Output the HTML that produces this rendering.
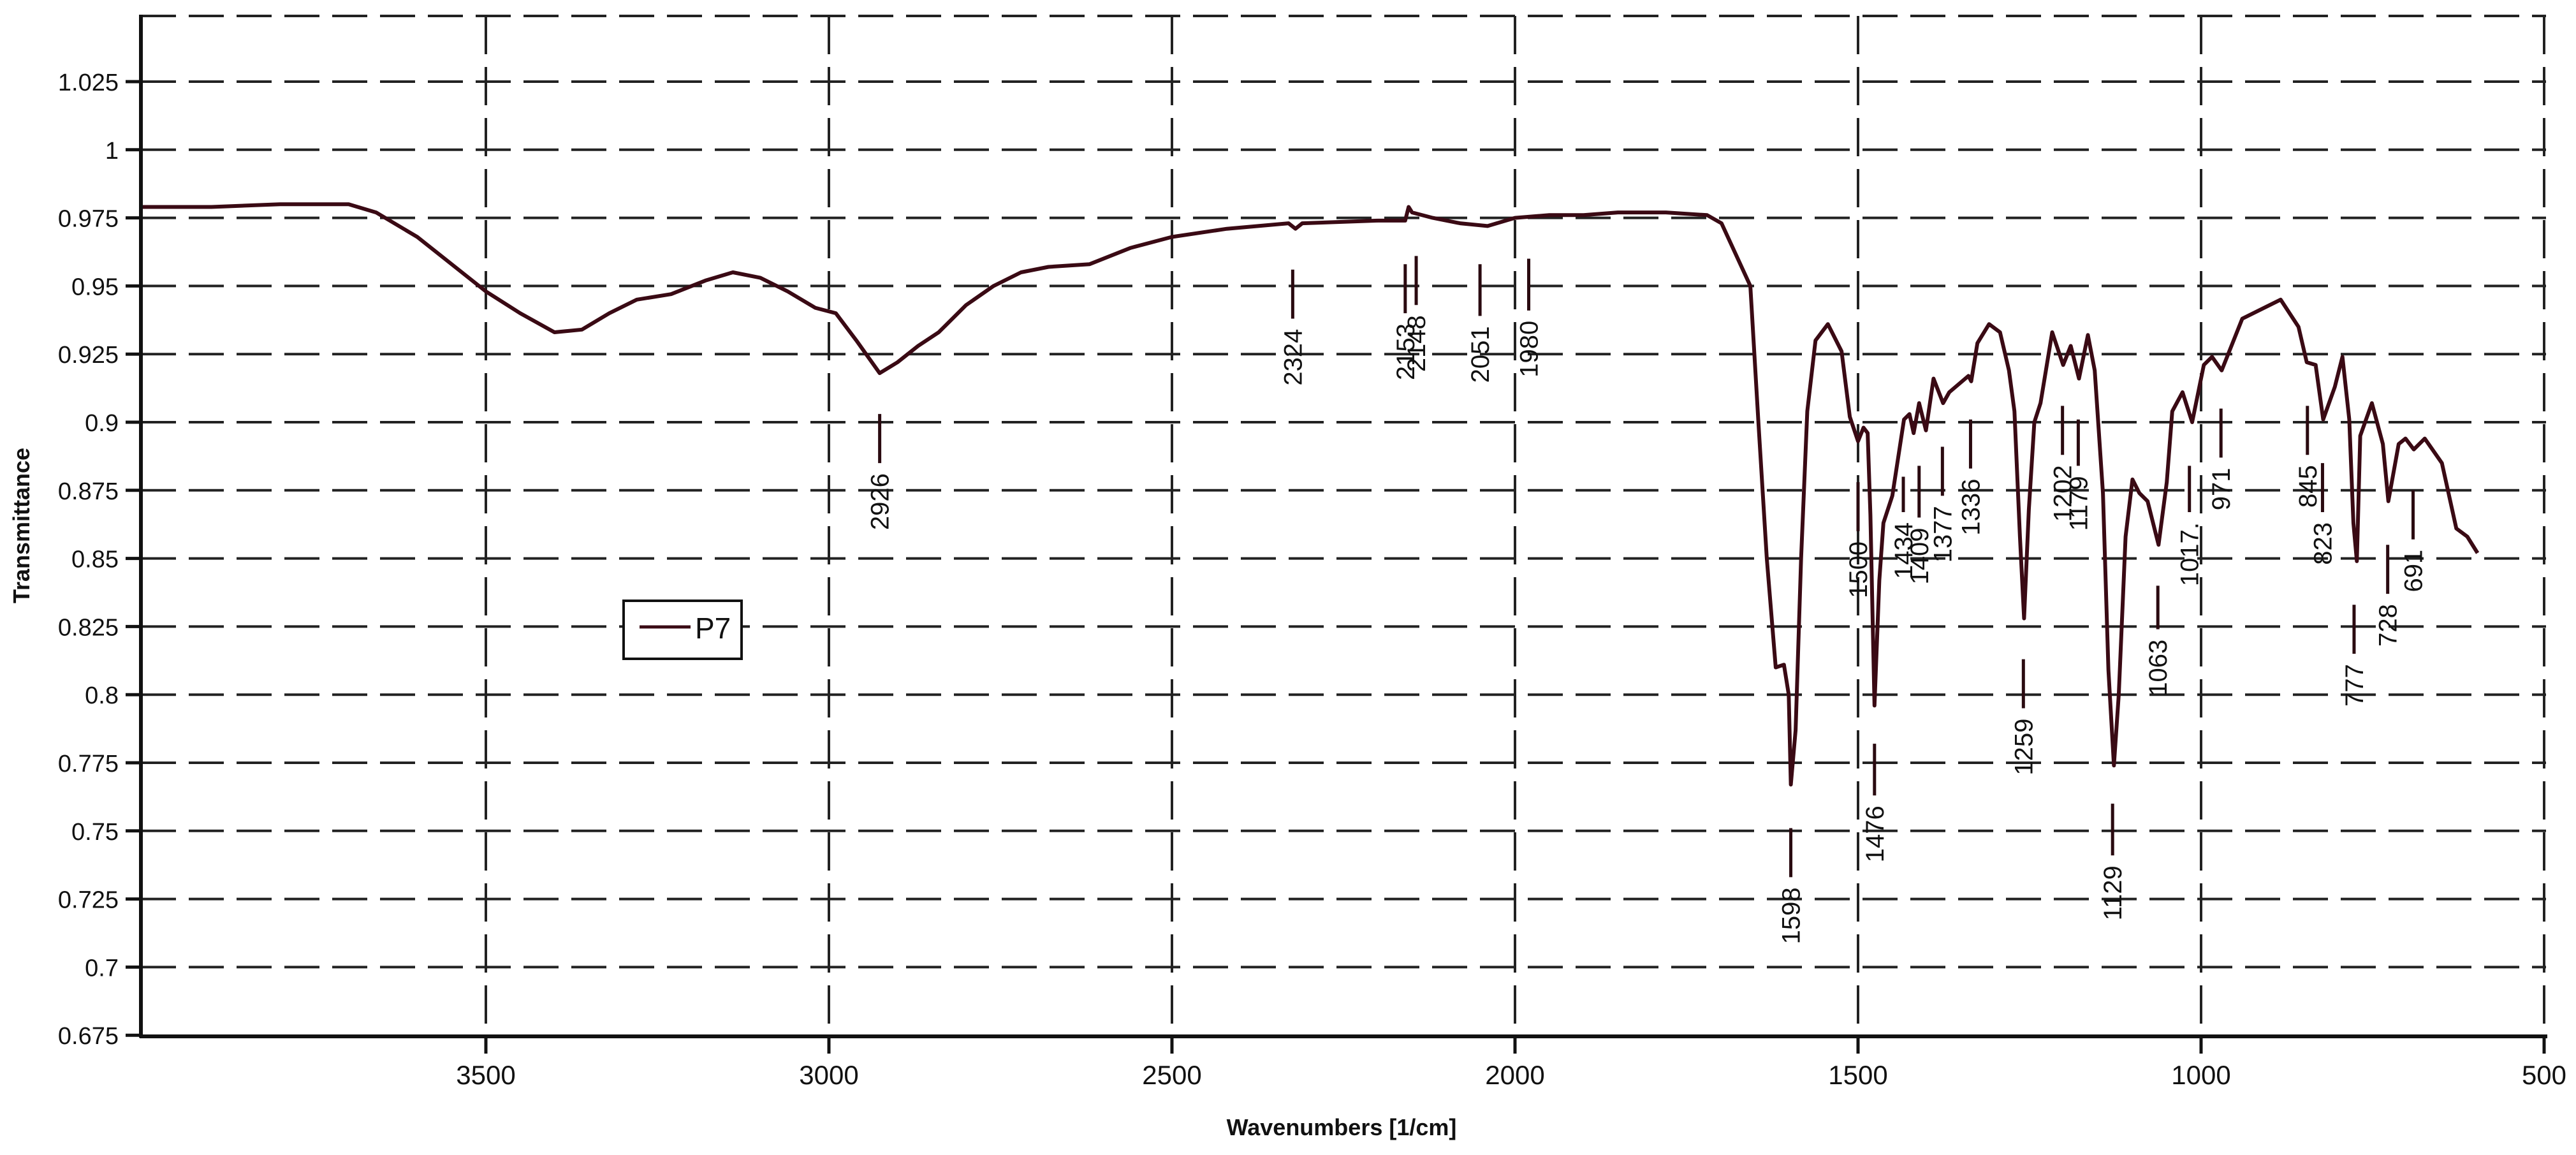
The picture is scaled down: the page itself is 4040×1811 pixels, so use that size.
<!DOCTYPE html>
<html><head><meta charset="utf-8"><style>
html,body{margin:0;padding:0;background:#fff;}
svg{display:block;font-family:"Liberation Sans",sans-serif;}
</style></head><body>
<svg id="chart" width="4040" height="1811" viewBox="0 0 4040 1811" xmlns="http://www.w3.org/2000/svg">
<g id="grid"></g>
<g id="axes"></g>
<g id="series"></g>
<g id="peaks"></g>
<text x="0" y="0" transform="translate(46,824) rotate(-90)" text-anchor="middle" font-size="36" font-weight="bold" fill="#111">Transmittance</text>
<text x="2104" y="1780" text-anchor="middle" font-size="36" font-weight="bold" fill="#111">Wavenumbers [1/cm]</text>
<g>
<rect x="978" y="942" width="185" height="91" fill="#fff" stroke="#111" stroke-width="4"/>
<line x1="1003" y1="983" x2="1083" y2="983" stroke="#3a0a14" stroke-width="5"/>
<text x="1090" y="1001" font-size="46" fill="#111">P7</text>
</g>
</svg>
<script>
const yTicks = [1.025, 1, 0.975, 0.95, 0.925, 0.9, 0.875, 0.85, 0.825, 0.8, 0.775, 0.75, 0.725, 0.7, 0.675];
const yTickLabels = ["1.025","1","0.975","0.95","0.925","0.9","0.875","0.85","0.825","0.8","0.775","0.75","0.725","0.7","0.675"];
const xTicks = [3500, 3000, 2500, 2000, 1500, 1000, 500];
const xTickLabels = ["3500","3000","2500","2000","1500","1000","500"];
const waveNumbers = [4000,3900,3800,3700,3660,3600,3550,3500,3450,3400,3360,3320,3280,3230,3180,3140,3100,3060,3020,2990,2960,2926,2900,2870,2840,2800,2760,2720,2680,2620,2560,2500,2420,2330,2320,2310,2200,2160,2155,2150,2120,2080,2040,2000,1950,1900,1850,1780,1720,1699,1657,1645,1633,1620,1608,1601,1598,1591,1583,1574,1562,1544,1524,1512,1500,1492,1486,1482,1476,1469,1463,1450,1433,1425,1419,1411,1401,1390,1376,1367,1339,1335,1326,1309,1293,1280,1272,1264,1258,1251,1243,1234,1217,1201,1190,1178,1165,1155,1143,1135,1127,1120,1110,1100,1090,1078,1062,1050,1042,1027,1013,996,984,970,940,884,858,846,833,822,805,794,784,778,773,768,751,735,727,712,702,690,674,649,628,612,597];
const transmittance = [0.979,0.979,0.980,0.980,0.977,0.968,0.958,0.948,0.940,0.933,0.934,0.940,0.945,0.947,0.952,0.955,0.953,0.948,0.942,0.940,0.930,0.918,0.922,0.928,0.933,0.943,0.950,0.955,0.957,0.958,0.964,0.968,0.971,0.973,0.971,0.973,0.974,0.974,0.979,0.977,0.975,0.973,0.972,0.975,0.976,0.976,0.977,0.977,0.976,0.973,0.950,0.899,0.850,0.810,0.811,0.800,0.767,0.787,0.850,0.904,0.930,0.936,0.926,0.902,0.893,0.898,0.896,0.866,0.796,0.842,0.863,0.873,0.901,0.903,0.896,0.907,0.897,0.916,0.907,0.911,0.917,0.915,0.929,0.936,0.933,0.919,0.904,0.858,0.828,0.868,0.900,0.907,0.933,0.921,0.928,0.916,0.932,0.919,0.874,0.809,0.774,0.800,0.858,0.879,0.874,0.871,0.855,0.878,0.904,0.911,0.900,0.921,0.924,0.919,0.938,0.945,0.935,0.922,0.921,0.901,0.913,0.924,0.901,0.863,0.849,0.895,0.907,0.892,0.871,0.892,0.894,0.890,0.894,0.885,0.861,0.858,0.852];
const peakLabels = ["2926","2324","2153","2148","2051","1980","1598","1500","1476","1434","1409","1377","1336","1259","1202","1179","1129","1063","1017.","971","845","823","777","728","691"];
const peakPositions = [2926,2324,2160,2144,2051,1980,1598,1500,1476,1434,1411,1377,1336,1259,1202,1179,1129,1063,1017,971,845,823,777,728,691];
const peakTops = [0.903,0.956,0.958,0.961,0.958,0.960,0.751,0.878,0.782,0.880,0.884,0.891,0.901,0.813,0.906,0.901,0.760,0.840,0.884,0.905,0.906,0.885,0.833,0.855,0.875];
const peakBottoms = [0.885,0.938,0.940,0.943,0.939,0.941,0.733,0.860,0.763,0.867,0.865,0.873,0.883,0.795,0.888,0.884,0.741,0.824,0.867,0.887,0.888,0.867,0.815,0.837,0.857];

const NS = "http://www.w3.org/2000/svg";
const X0 = 221, X1 = 3993, YTOP = 25, YBOT = 1625;
function xScale(w){ return 762 + (3500 - w) * 1.076; }
function yScale(v){ return 128 + (1.025 - v) * 4272; }
function mk(tag, attrs, parent){ const e = document.createElementNS(NS, tag); for (const k in attrs) e.setAttribute(k, attrs[k]); parent.appendChild(e); return e; }

const grid = document.getElementById('grid');
const axes = document.getElementById('axes');
const series = document.getElementById('series');
const peaks = document.getElementById('peaks');

const topLine = mk('line', {x1:X0, y1:YTOP, x2:X1, y2:YTOP, stroke:'#222', 'stroke-width':4, 'stroke-dasharray':'55 20'}, grid);



yTicks.forEach((v, i) => {
  const y = yScale(v);
  if (i < yTicks.length - 1) {
    const g = mk('line', {x1:X0, y1:y, x2:X1, y2:y, stroke:'#222', 'stroke-width':4, 'stroke-dasharray':'55 20'}, grid);
    
    
  }
  const t = mk('line', {x1:197, y1:y, x2:X0, y2:y, stroke:'#111', 'stroke-width':5}, axes);
  
  
  const lb = mk('text', {x:186, y:y + 14, 'text-anchor':'end', 'font-size':38, fill:'#111'}, axes);
  lb.textContent = yTickLabels[i];
  
  
});

xTicks.forEach((w, i) => {
  const x = xScale(w);
  const g = mk('line', {x1:x, y1:YTOP, x2:x, y2:YBOT, stroke:'#222', 'stroke-width':4, 'stroke-dasharray':'60 20'}, grid);
  
  
  const t = mk('line', {x1:x, y1:YBOT, x2:x, y2:1652, stroke:'#111', 'stroke-width':5}, axes);
  
  
  const lb = mk('text', {x:x, y:1700, 'text-anchor':'middle', 'font-size':42, fill:'#111'}, axes);
  lb.textContent = xTickLabels[i];
  
  
});

const yAxis = mk('line', {x1:X0, y1:YTOP - 2, x2:X0, y2:YBOT + 2, stroke:'#111', 'stroke-width':6}, axes);


const xAxis = mk('line', {x1:X0 - 2, y1:YBOT, x2:X1 + 2, y2:YBOT, stroke:'#111', 'stroke-width':6}, axes);



const pts = waveNumbers.map((w, i) => xScale(w).toFixed(1) + ',' + yScale(transmittance[i]).toFixed(1)).join(' ');
const line = mk('polyline', {points:pts, fill:'none', stroke:'#3a0a14', 'stroke-width':6, 'stroke-linejoin':'round'}, series);



peakLabels.forEach((lab, i) => {
  const x = xScale(peakPositions[i]);
  const y1 = yScale(peakTops[i]), y2 = yScale(peakBottoms[i]);
  const m = mk('line', {x1:x, y1:y1, x2:x, y2:y2, stroke:'#2a0a10', 'stroke-width':5}, peaks);
  
  
  const ty = y2 + 16;
  const t = mk('text', {x:0, y:0, transform:'translate(' + (x + 14).toFixed(1) + ',' + ty.toFixed(1) + ') rotate(-90)', 'text-anchor':'end', 'font-size':40, fill:'#111'}, peaks);
  t.textContent = lab;
  
  
});
</script>
</body></html>
